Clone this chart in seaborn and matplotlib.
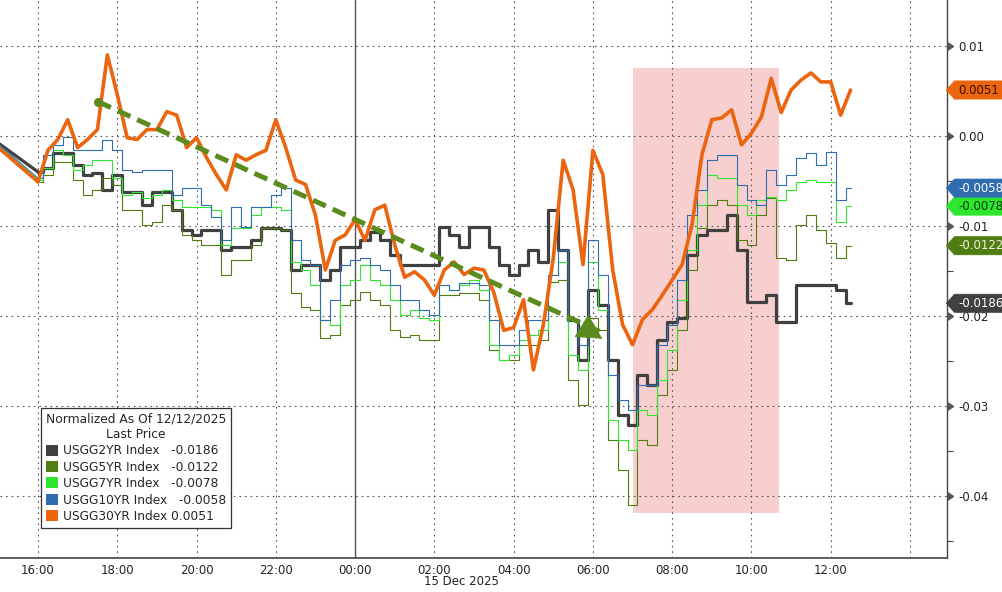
import numpy as np
import pandas as pd
import matplotlib
matplotlib.use("Agg")
import matplotlib.pyplot as plt
import matplotlib.dates as mdates
import matplotlib.transforms as mtransforms
from matplotlib.patches import Patch, Rectangle
from matplotlib.path import Path
import seaborn as sns

# ---------------- data ----------------
first_time = "2025-12-14 15:00"
grid_start = "2025-12-14 16:00"
grid_end = "2025-12-15 12:30"

series_names = ["USGG2YR Index", "USGG5YR Index", "USGG7YR Index",
                "USGG10YR Index", "USGG30YR Index"]

usgg2yr = [-0.0008,
    -0.0040, -0.0036, -0.0019, -0.0019, -0.0032, -0.0043, -0.0041, -0.0060, -0.0043, -0.0062,
    -0.0062, -0.0077, -0.0062, -0.0062, -0.0082, -0.0104, -0.0110, -0.0104, -0.0104, -0.0127,
    -0.0123, -0.0123, -0.0116, -0.0102, -0.0102, -0.0104, -0.0149, -0.0143, -0.0143, -0.0160,
    -0.0149, -0.0123, -0.0123, -0.0116, -0.0107, -0.0116, -0.0132, -0.0143, -0.0143, -0.0143,
    -0.0143, -0.0101, -0.0110, -0.0123, -0.0101, -0.0101, -0.0123, -0.0143, -0.0154, -0.0143,
    -0.0127, -0.0140, -0.0082, -0.0127, -0.0204, -0.0249, -0.0171, -0.0188, -0.0249, -0.0310,
    -0.0321, -0.0266, -0.0277, -0.0227, -0.0207, -0.0202, -0.0132, -0.0110, -0.0104, -0.0104,
    -0.0088, -0.0127, -0.0184, -0.0184, -0.0177, -0.0207, -0.0207, -0.0166, -0.0166, -0.0166,
    -0.0166, -0.0171, -0.0186]

usgg5yr = [-0.0011,
    -0.0051, -0.0043, -0.0029, -0.0029, -0.0049, -0.0066, -0.0060, -0.0047, -0.0054, -0.0082,
    -0.0082, -0.0099, -0.0096, -0.0077, -0.0082, -0.0110, -0.0116, -0.0121, -0.0121, -0.0154,
    -0.0138, -0.0138, -0.0121, -0.0102, -0.0102, -0.0104, -0.0174, -0.0190, -0.0193, -0.0224,
    -0.0221, -0.0188, -0.0182, -0.0173, -0.0182, -0.0188, -0.0216, -0.0223, -0.0221, -0.0227,
    -0.0227, -0.0177, -0.0177, -0.0174, -0.0174, -0.0182, -0.0238, -0.0249, -0.0249, -0.0232,
    -0.0232, -0.0227, -0.0162, -0.0160, -0.0271, -0.0299, -0.0202, -0.0216, -0.0338, -0.0371,
    -0.0410, -0.0338, -0.0343, -0.0288, -0.0260, -0.0216, -0.0149, -0.0102, -0.0077, -0.0071,
    -0.0077, -0.0116, -0.0121, -0.0088, -0.0069, -0.0136, -0.0138, -0.0099, -0.0088, -0.0104,
    -0.0119, -0.0136, -0.0122]

usgg7yr = [-0.0010,
    -0.0049, -0.0036, -0.0016, -0.0021, -0.0038, -0.0032, -0.0027, -0.0027, -0.0047, -0.0066,
    -0.0062, -0.0069, -0.0066, -0.0060, -0.0071, -0.0079, -0.0079, -0.0079, -0.0082, -0.0121,
    -0.0102, -0.0102, -0.0088, -0.0079, -0.0079, -0.0082, -0.0140, -0.0149, -0.0166, -0.0204,
    -0.0210, -0.0166, -0.0160, -0.0143, -0.0160, -0.0166, -0.0182, -0.0199, -0.0193, -0.0202,
    -0.0204, -0.0166, -0.0171, -0.0166, -0.0160, -0.0171, -0.0232, -0.0249, -0.0243, -0.0227,
    -0.0221, -0.0216, -0.0154, -0.0140, -0.0243, -0.0260, -0.0140, -0.0193, -0.0316, -0.0338,
    -0.0349, -0.0304, -0.0310, -0.0271, -0.0238, -0.0182, -0.0127, -0.0077, -0.0043, -0.0047,
    -0.0047, -0.0077, -0.0088, -0.0071, -0.0068, -0.0071, -0.0060, -0.0051, -0.0049, -0.0051,
    -0.0051, -0.0096, -0.0078]

usgg10yr = [-0.0009,
    -0.0047, -0.0021, -0.0010, -0.0001, -0.0016, -0.0016, -0.0016, -0.0004, -0.0016, -0.0038,
    -0.0040, -0.0038, -0.0038, -0.0038, -0.0066, -0.0058, -0.0058, -0.0077, -0.0090, -0.0116,
    -0.0079, -0.0101, -0.0079, -0.0079, -0.0066, -0.0058, -0.0116, -0.0138, -0.0143, -0.0204,
    -0.0182, -0.0143, -0.0138, -0.0136, -0.0143, -0.0149, -0.0166, -0.0182, -0.0182, -0.0193,
    -0.0199, -0.0166, -0.0171, -0.0163, -0.0163, -0.0166, -0.0204, -0.0232, -0.0232, -0.0216,
    -0.0204, -0.0204, -0.0154, -0.0127, -0.0204, -0.0232, -0.0116, -0.0154, -0.0266, -0.0293,
    -0.0304, -0.0277, -0.0277, -0.0232, -0.0210, -0.0160, -0.0088, -0.0060, -0.0027, -0.0021,
    -0.0021, -0.0054, -0.0071, -0.0077, -0.0038, -0.0054, -0.0043, -0.0024, -0.0019, -0.0032,
    -0.0018, -0.0071, -0.0058]

usgg30yr = [-0.0013,
    -0.0051, -0.0016, -0.0004, 0.0018, -0.0013, -0.0004, 0.0007, 0.0090, 0.0046, -0.0002,
    -0.0004, 0.0007, 0.0007, 0.0027, 0.0023, -0.0013, -0.0002, -0.0024, -0.0043, -0.0060,
    -0.0021, -0.0027, -0.0021, -0.0016, 0.0018, -0.0013, -0.0049, -0.0054, -0.0088, -0.0149,
    -0.0116, -0.0110, -0.0093, -0.0116, -0.0082, -0.0077, -0.0121, -0.0157, -0.0151, -0.0160,
    -0.0177, -0.0149, -0.0140, -0.0154, -0.0147, -0.0149, -0.0174, -0.0216, -0.0213, -0.0182,
    -0.0260, -0.0210, -0.0136, -0.0027, -0.0060, -0.0143, -0.0016, -0.0043, -0.0149, -0.0210,
    -0.0232, -0.0204, -0.0193, -0.0177, -0.0160, -0.0143, -0.0099, -0.0021, 0.0018, 0.0020,
    0.0029, -0.0010, 0.0003, 0.0021, 0.0064, 0.0026, 0.0051, 0.0062, 0.0070, 0.0060,
    0.0060, 0.0023, 0.0051]

x_tick_times = ["2025-12-14 16:00", "2025-12-14 18:00", "2025-12-14 20:00", "2025-12-14 22:00",
                "2025-12-15 00:00", "2025-12-15 02:00", "2025-12-15 04:00", "2025-12-15 06:00",
                "2025-12-15 08:00", "2025-12-15 10:00", "2025-12-15 12:00", "2025-12-15 14:00"]
x_tick_labels = ["16:00", "18:00", "20:00", "22:00", "00:00", "02:00", "04:00", "06:00",
                 "08:00", "10:00", "12:00", ""]
date_label = "15 Dec 2025"
y_ticks = [0.01, 0.00, -0.01, -0.02, -0.03, -0.04]
y_tick_labels = ["0.01", "0.00", "-0.01", "-0.02", "-0.03", "-0.04"]
y_minor_ticks = [0.005, -0.005, -0.015, -0.025, -0.035, -0.045]

legend_title = "Normalized As Of 12/12/2025\nLast Price"

# annotations (data coordinates)
arrow_start = ("2025-12-14 17:31", 0.0038)
arrow_end = ("2025-12-15 06:18", -0.0227)
shade_x = ("2025-12-15 07:01", "2025-12-15 10:41")
shade_y = (-0.0419, 0.0076)

x_limits = ("2025-12-14 15:02:30", "2025-12-15 14:56")
y_limits = (-0.0469, 0.0151)

# ---------------- styling ----------------
colors = {"USGG2YR Index": "#404040", "USGG5YR Index": "#4f7d12",
          "USGG7YR Index": "#2ee62e", "USGG10YR Index": "#2f6db0",
          "USGG30YR Index": "#ea650d"}
widths = {"USGG2YR Index": 2.3, "USGG5YR Index": 0.8, "USGG7YR Index": 0.8,
          "USGG10YR Index": 0.8, "USGG30YR Index": 2.6}
steps = {"USGG2YR Index": "steps-mid", "USGG5YR Index": "steps-mid",
         "USGG7YR Index": "steps-mid", "USGG10YR Index": "steps-mid",
         "USGG30YR Index": "default"}
tag_text = {"USGG2YR Index": "white", "USGG5YR Index": "#eef2e0",
            "USGG7YR Index": "#0b3d0b", "USGG10YR Index": "white",
            "USGG30YR Index": "#3a0e00"}
draw_order = ["USGG2YR Index", "USGG5YR Index", "USGG7YR Index",
              "USGG10YR Index", "USGG30YR Index"]

sns.set_style("white")
plt.rcParams["font.family"] = ["DejaVu Sans"]

times = pd.DatetimeIndex([pd.Timestamp(first_time)]).append(
    pd.date_range(grid_start, grid_end, freq="15min"))
wide = pd.DataFrame({"time": times,
                     "USGG2YR Index": usgg2yr, "USGG5YR Index": usgg5yr,
                     "USGG7YR Index": usgg7yr, "USGG10YR Index": usgg10yr,
                     "USGG30YR Index": usgg30yr})
df = wide.melt(id_vars="time", var_name="series", value_name="value")
gap_end = pd.Timestamp(grid_start)

fig = plt.figure(figsize=(10.03, 5.92), dpi=100)
ax = fig.add_axes([0.0, 34 / 592, 947 / 1003, 558 / 592])

t = lambda s: mdates.date2num(pd.Timestamp(s))

# shaded region
ax.add_patch(Rectangle((t(shade_x[0]), shade_y[0]), t(shade_x[1]) - t(shade_x[0]),
                       shade_y[1] - shade_y[0], facecolor="#f7cfcf", edgecolor="none",
                       zorder=0.5))

for i, name in enumerate(draw_order):
    sub = df[df["series"] == name]
    gap = sub[sub["time"] <= gap_end]          # weekend gap: straight join
    live = sub[sub["time"] >= gap_end]
    sns.lineplot(data=gap, x="time", y="value", ax=ax, color=colors[name],
                 linewidth=widths[name], estimator=None, legend=False, zorder=2 + i)
    sns.lineplot(data=live, x="time", y="value", ax=ax, color=colors[name],
                 linewidth=widths[name], drawstyle=steps[name], estimator=None,
                 legend=False, zorder=2 + i)

# midnight separator
ax.axvline(t("2025-12-15 00:00"), color="#555555", linewidth=1.0, zorder=1)

# dashed trend arrow
arrow_green = "#5b8b1c"
ax.plot([t(arrow_start[0]), t(arrow_end[0]) - 0.004], [arrow_start[1], arrow_end[1] + 0.0009],
        color=arrow_green, linewidth=3.6, linestyle=(0, (2.8, 1.5)), zorder=10,
        dash_capstyle="butt")
ax.plot([t(arrow_start[0])], [arrow_start[1]], marker="o", markersize=5.5,
        color=arrow_green, zorder=10)
ax.annotate("", xy=(t(arrow_end[0]), arrow_end[1]),
            xytext=(t(arrow_end[0]) - 0.02, arrow_end[1] + 0.0013),
            arrowprops=dict(arrowstyle="-|>,head_length=0.85,head_width=0.45",
                            color=arrow_green, lw=0.5, mutation_scale=20),
            zorder=11)

# axes
ax.set_xlim(t(x_limits[0]), t(x_limits[1]))
ax.set_ylim(*y_limits)
ax.set_xlabel("")
ax.set_ylabel("")
ax.set_xticks([t(s) for s in x_tick_times])
ax.set_xticklabels(x_tick_labels)
ax.set_xticks([t(s) + 1 / 24 for s in x_tick_times[:-1]], minor=True)
ax.yaxis.tick_right()
ax.set_yticks(y_ticks)
ax.set_yticklabels(y_tick_labels)
ax.set_yticks(y_minor_ticks, minor=True)

ax.tick_params(axis="x", which="major", length=0, pad=4, labelsize=8.5, labelcolor="#222222")
ax.tick_params(axis="x", which="minor", length=4, width=0.8, color="#444444", direction="out")
ax.tick_params(axis="y", which="major", length=0, pad=8, labelsize=8.5, labelcolor="#222222",
               left=False, right=True)
ax.tick_params(axis="y", which="minor", length=4, width=0.8, color="#444444",
               direction="out", left=False, right=True)

ax.grid(which="major", axis="both", color="#555555", linestyle=(0, (1.5, 3.5)), linewidth=0.8)
ax.set_axisbelow(True)
for side in ["top", "left"]:
    ax.spines[side].set_visible(False)
ax.spines["right"].set_color("#444444")
ax.spines["bottom"].set_color("#444444")
ax.spines["right"].set_linewidth(1.0)
ax.spines["bottom"].set_linewidth(1.2)

# triangle markers at the major y ticks
ytrans = mtransforms.blended_transform_factory(ax.transAxes, ax.transData)
ax.plot([1.0] * len(y_ticks), y_ticks, linestyle="none", marker=9, markersize=6,
        color="#555555", transform=ytrans, clip_on=False, zorder=12)

# date label under the axis
xtrans = mtransforms.blended_transform_factory(ax.transData, ax.transAxes)
ax.text(t("2025-12-15 01:44"), -0.043, date_label, transform=xtrans, ha="left",
        va="center", fontsize=8.5, color="#222222")


# pointed price tags
def tag_box(x0, y0, width, height, mutation_size):
    pad_x = 0.3 * mutation_size
    pad_y = 0.22 * mutation_size
    x0 -= pad_x
    y0 -= pad_y
    w = width + 2 * pad_x
    h = height + 2 * pad_y
    tip = 0.45 * h
    verts = [(x0 - tip, y0 + h / 2), (x0, y0), (x0 + w, y0), (x0 + w, y0 + h),
             (x0, y0 + h), (x0 - tip, y0 + h / 2), (x0 - tip, y0 + h / 2)]
    codes = [Path.MOVETO] + [Path.LINETO] * 5 + [Path.CLOSEPOLY]
    return Path(verts, codes)


tag_trans = mtransforms.offset_copy(ytrans, fig=fig, x=11, y=0, units="dots")
last_vals = {name: wide[name].iloc[-1] for name in series_names}
for name in series_names:
    v = last_vals[name]
    ax.text(1.0, v, f"{v:.4f}", transform=tag_trans, ha="left", va="center",
            fontsize=8.5, color=tag_text[name], clip_on=False, zorder=20,
            bbox=dict(boxstyle=tag_box, facecolor=colors[name], edgecolor=colors[name],
                      linewidth=0.5))

# legend
handles = [Patch(facecolor=colors[n], edgecolor="none") for n in series_names]
labels = []
for n in series_names:
    v = last_vals[n]
    sep = "   " if v < 0 else " "
    labels.append(f"{n}{sep}{v:.4f}")
leg = ax.legend(handles, labels, title=legend_title, loc="lower left",
                bbox_to_anchor=(0.043, 0.054), fontsize=8.8, title_fontsize=8.8,
                frameon=True, fancybox=False, framealpha=1, edgecolor="#333333",
                handlelength=1.0, handleheight=1.0, handletextpad=0.4,
                labelspacing=0.28, borderpad=0.4, borderaxespad=0)
leg.get_frame().set_linewidth(0.9)
leg.get_title().set_multialignment("center")
leg.set_zorder(30)

fig.savefig("out.png", dpi=100, facecolor="white")
